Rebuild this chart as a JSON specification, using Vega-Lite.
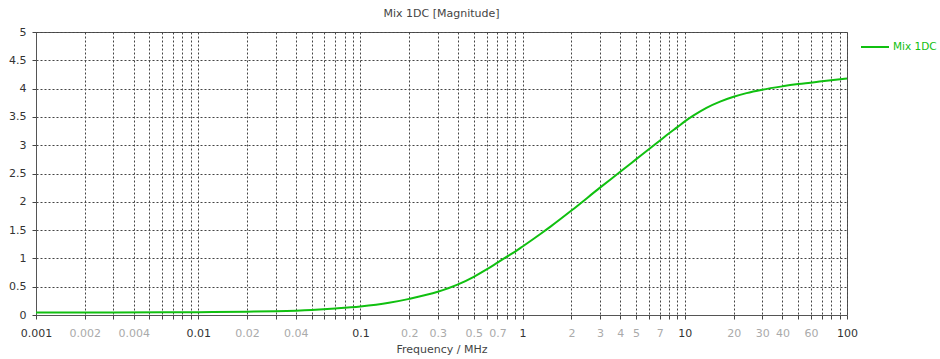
{
  "$schema": "https://vega.github.io/schema/vega-lite/v6.json",
  "autosize": {"type": "none"},
  "width": 811,
  "height": 283,
  "padding": {"left": 36, "top": 32, "right": 93, "bottom": 44},
  "background": "white",
  "title": {
    "text": "Mix 1DC [Magnitude]",
    "anchor": "middle",
    "font": "DejaVu Sans",
    "fontSize": 11,
    "fontWeight": "normal",
    "color": "#444",
    "offset": 7
  },
  "config": {
    "view": {"stroke": "#555", "strokeWidth": 1},
    "font": "DejaVu Sans"
  },
  "data": {
    "values": [
      {"f": 0.001, "v": 0.045, "s": "Mix 1DC"},
      {"f": 0.003, "v": 0.046, "s": "Mix 1DC"},
      {"f": 0.01, "v": 0.05, "s": "Mix 1DC"},
      {"f": 0.02, "v": 0.058, "s": "Mix 1DC"},
      {"f": 0.03, "v": 0.068, "s": "Mix 1DC"},
      {"f": 0.05, "v": 0.09, "s": "Mix 1DC"},
      {"f": 0.07, "v": 0.115, "s": "Mix 1DC"},
      {"f": 0.1, "v": 0.15, "s": "Mix 1DC"},
      {"f": 0.15, "v": 0.215, "s": "Mix 1DC"},
      {"f": 0.2, "v": 0.285, "s": "Mix 1DC"},
      {"f": 0.3, "v": 0.41, "s": "Mix 1DC"},
      {"f": 0.4, "v": 0.54, "s": "Mix 1DC"},
      {"f": 0.5, "v": 0.675, "s": "Mix 1DC"},
      {"f": 0.6, "v": 0.805, "s": "Mix 1DC"},
      {"f": 0.7, "v": 0.925, "s": "Mix 1DC"},
      {"f": 0.8, "v": 1.03, "s": "Mix 1DC"},
      {"f": 0.9, "v": 1.12, "s": "Mix 1DC"},
      {"f": 1, "v": 1.21, "s": "Mix 1DC"},
      {"f": 1.3, "v": 1.44, "s": "Mix 1DC"},
      {"f": 1.5, "v": 1.57, "s": "Mix 1DC"},
      {"f": 2, "v": 1.845, "s": "Mix 1DC"},
      {"f": 3, "v": 2.25, "s": "Mix 1DC"},
      {"f": 4, "v": 2.53, "s": "Mix 1DC"},
      {"f": 5, "v": 2.75, "s": "Mix 1DC"},
      {"f": 6, "v": 2.93, "s": "Mix 1DC"},
      {"f": 7, "v": 3.08, "s": "Mix 1DC"},
      {"f": 8, "v": 3.21, "s": "Mix 1DC"},
      {"f": 9, "v": 3.32, "s": "Mix 1DC"},
      {"f": 10, "v": 3.42, "s": "Mix 1DC"},
      {"f": 11.4, "v": 3.53, "s": "Mix 1DC"},
      {"f": 13.6, "v": 3.66, "s": "Mix 1DC"},
      {"f": 16.5, "v": 3.77, "s": "Mix 1DC"},
      {"f": 20, "v": 3.855, "s": "Mix 1DC"},
      {"f": 24, "v": 3.92, "s": "Mix 1DC"},
      {"f": 30, "v": 3.98, "s": "Mix 1DC"},
      {"f": 40, "v": 4.04, "s": "Mix 1DC"},
      {"f": 50, "v": 4.08, "s": "Mix 1DC"},
      {"f": 70, "v": 4.13, "s": "Mix 1DC"},
      {"f": 100, "v": 4.18, "s": "Mix 1DC"}
    ]
  },
  "mark": {"type": "line", "strokeWidth": 2, "interpolate": "monotone"},
  "encoding": {
    "x": {
      "field": "f",
      "type": "quantitative",
      "scale": {"type": "log", "domain": [0.001, 100], "nice": false},
      "axis": {
        "title": "Frequency / MHz",
        "titleFont": "DejaVu Sans",
        "titleFontSize": 11,
        "titleFontWeight": "normal",
        "titleColor": "#444",
        "titlePadding": 5,
        "values": [0.001,0.002,0.003,0.004,0.005,0.006,0.007,0.008,0.009,
                   0.01,0.02,0.03,0.04,0.05,0.06,0.07,0.08,0.09,
                   0.1,0.2,0.3,0.4,0.5,0.6,0.7,0.8,0.9,
                   1,2,3,4,5,6,7,8,9,
                   10,20,30,40,50,60,70,80,90,100],
        "labelExpr": "indexof([0.001,0.002,0.004,0.01,0.02,0.04,0.1,0.2,0.3,0.5,0.7,1,2,3,4,5,7,10,20,30,40,60,100], datum.value) >= 0 ? format(datum.value, '~g') : ''",
        "labelColor": {"condition": {"test": "indexof([0.001,0.01,0.1,1,10,100], datum.value) >= 0", "value": "#333"}, "value": "#aaa"},
        "labelFont": "DejaVu Sans",
        "labelFontSize": 11,
        "labelOverlap": false,
        "labelFlush": false,
        "labelPadding": 8,
        "tickSize": 4,
        "tickColor": "#444",
        "domainColor": "#555",
        "grid": true,
        "gridColor": "#444",
        "gridDash": [2, 2],
        "gridWidth": 1
      }
    },
    "y": {
      "field": "v",
      "type": "quantitative",
      "scale": {"domain": [0, 5], "nice": false},
      "axis": {
        "title": null,
        "values": [0,0.5,1,1.5,2,2.5,3,3.5,4,4.5,5],
        "format": "~g",
        "labelFont": "DejaVu Sans",
        "labelFontSize": 11,
        "labelColor": "#333",
        "labelPadding": 6,
        "tickSize": 4,
        "tickColor": "#444",
        "domainColor": "#555",
        "grid": true,
        "gridColor": "#444",
        "gridDash": [2, 2],
        "gridWidth": 1
      }
    },
    "color": {
      "field": "s",
      "type": "nominal",
      "scale": {"range": ["#10c010"]},
      "legend": {
        "title": null,
        "orient": "right",
        "offset": 9,
        "symbolType": "stroke",
        "symbolSize": 784,
        "symbolStrokeWidth": 2,
        "labelColor": "#10c010",
        "labelFont": "DejaVu Sans",
        "labelFontSize": 10.5,
        "labelOffset": 3,
        "padding": 0
      }
    }
  }
}
